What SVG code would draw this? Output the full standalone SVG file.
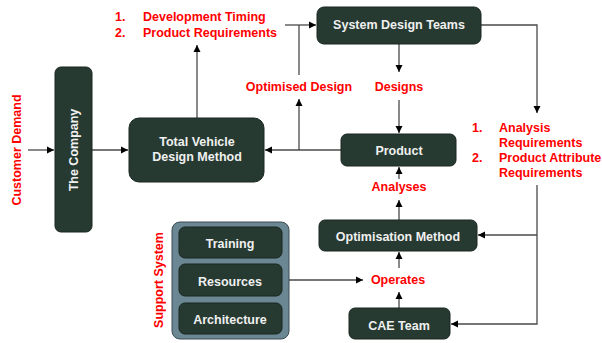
<svg xmlns="http://www.w3.org/2000/svg" width="602" height="343" viewBox="0 0 602 343">
<style>
.node{fill:#263a31;stroke:#1a2620;stroke-width:1}
.nt{font-family:"Liberation Sans",Arial,sans-serif;font-size:12.5px;font-weight:bold;fill:#f0f0f0;text-anchor:middle;dominant-baseline:central}
.rt{font-family:"Liberation Sans",Arial,sans-serif;font-size:12.5px;font-weight:bold;fill:#ff0000;dominant-baseline:central}
.c{fill:none;stroke:#4a4a4a;stroke-width:1.3}
</style>
<defs>
<marker id="a" markerWidth="8" markerHeight="8" refX="7" refY="4" orient="auto" markerUnits="userSpaceOnUse">
<path d="M0,0.5 L7,4 L0,7.5 Z" fill="#000"/>
</marker>
</defs>
<rect width="602" height="343" fill="#fff"/>
<g id="connectors">
<path class="c" d="M28,150 H54" marker-end="url(#a)"/>
<path class="c" d="M92,150 H128" marker-end="url(#a)"/>
<path class="c" d="M197,118 V45" marker-end="url(#a)"/>
<path class="c" d="M285,25 H316" marker-end="url(#a)"/>
<path class="c" d="M299,25 V75"/>
<path class="c" d="M341,150 H265" marker-end="url(#a)"/>
<path class="c" d="M299,150 V99" marker-end="url(#a)"/>
<path class="c" d="M399,44 V72" marker-end="url(#a)"/>
<path class="c" d="M399,100 V133" marker-end="url(#a)"/>
<path class="c" d="M481,25 H537 V113" marker-end="url(#a)"/>
<path class="c" d="M537,185 V324 H451" marker-end="url(#a)"/>
<path class="c" d="M537,235 H478" marker-end="url(#a)"/>
<path class="c" d="M399,179 V167" marker-end="url(#a)"/>
<path class="c" d="M399,220 V200" marker-end="url(#a)"/>
<path class="c" d="M399,268 V252" marker-end="url(#a)"/>
<path class="c" d="M399,308 V292" marker-end="url(#a)"/>
<path class="c" d="M289,280 H363" marker-end="url(#a)"/>
</g>
<g id="company">
<rect class="node" x="55" y="67" width="37" height="165" rx="6"/>
<text class="nt" transform="translate(74,150) rotate(-90)">The Company</text>
</g>
<g id="tvdm">
<rect class="node" x="129" y="118" width="135" height="64" rx="10"/>
<text class="nt" x="197" y="142">Total Vehicle</text>
<text class="nt" x="197" y="157">Design Method</text>
</g>
<g id="sdt">
<rect class="node" x="317" y="7" width="164" height="37" rx="7"/>
<text class="nt" x="399" y="25">System Design Teams</text>
</g>
<g id="product">
<rect class="node" x="341" y="134" width="115" height="32" rx="6"/>
<text class="nt" x="399" y="151">Product</text>
</g>
<g id="optimisation">
<rect class="node" x="319" y="220" width="158" height="31" rx="6"/>
<text class="nt" x="398" y="237">Optimisation Method</text>
</g>
<g id="cae">
<rect class="node" x="349" y="308" width="101" height="31" rx="6"/>
<text class="nt" x="399" y="326">CAE Team</text>
</g>
<g id="support">
<rect x="172" y="222" width="117" height="117" rx="8" fill="#6a8793" stroke="#3b4b52" stroke-width="1"/>
<rect class="node" x="179" y="227" width="103" height="31" rx="6"/>
<text class="nt" x="230" y="244">Training</text>
<rect class="node" x="179" y="264" width="103" height="32" rx="6"/>
<text class="nt" x="230" y="282">Resources</text>
<rect class="node" x="179" y="303" width="103" height="31" rx="6"/>
<text class="nt" x="230" y="320">Architecture</text>
</g>
<g id="labels">
<text class="rt" text-anchor="middle" transform="translate(17,150) rotate(-90)">Customer Demand</text>
<text class="rt" text-anchor="middle" transform="translate(159,280) rotate(-90)">Support System</text>
<text class="rt" x="115" y="17">1.</text>
<text class="rt" x="143" y="17">Development Timing</text>
<text class="rt" x="115" y="33">2.</text>
<text class="rt" x="143" y="33">Product Requirements</text>
<text class="rt" x="299" y="87" text-anchor="middle">Optimised Design</text>
<text class="rt" x="399" y="87" text-anchor="middle">Designs</text>
<text class="rt" x="472" y="128">1.</text>
<text class="rt" x="499" y="128">Analysis</text>
<text class="rt" x="499" y="143">Requirements</text>
<text class="rt" x="472" y="158">2.</text>
<text class="rt" x="499" y="158">Product Attribute</text>
<text class="rt" x="499" y="173">Requirements</text>
<text class="rt" x="399" y="187" text-anchor="middle">Analyses</text>
<text class="rt" x="398" y="280" text-anchor="middle">Operates</text>
</g>
</svg>
